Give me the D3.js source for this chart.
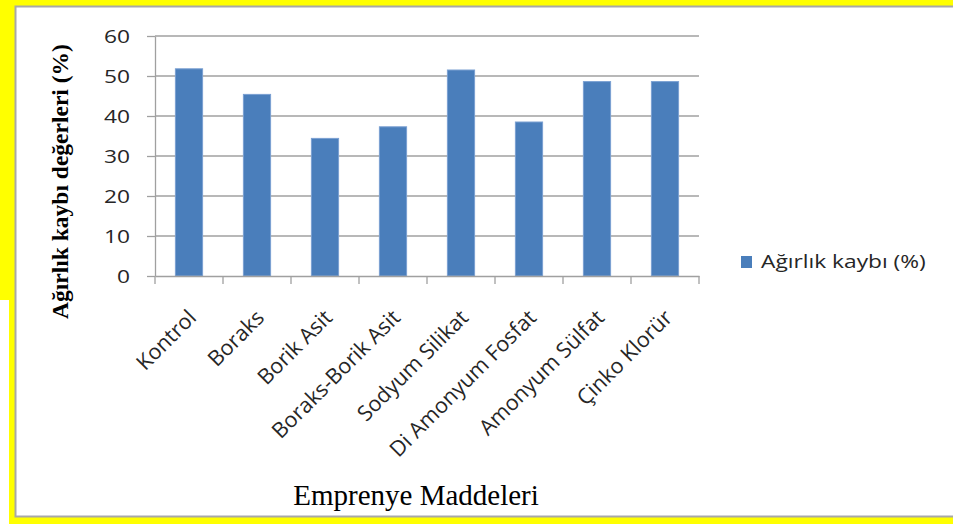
<!DOCTYPE html>
<html>
<head>
<meta charset="utf-8">
<script src="https://cdn.jsdelivr.net/npm/d3@7"></script>
<style>
  html, body { margin: 0; padding: 0; background: #fff; overflow: hidden; }
  svg { display: block; }
</style>
</head>
<body>
<svg id="chart" width="953" height="524"></svg>
<script>
const categories = ["Kontrol", "Boraks", "Borik Asit", "Boraks-Borik Asit", "Sodyum Silikat", "Di Amonyum Fosfat", "Amonyum Sülfat", "Çinko Klorür"];
const values = [51.8, 45.4, 34.4, 37.3, 51.5, 38.5, 48.6, 48.6];
const yTicks = [0, 10, 20, 30, 40, 50, 60];
const seriesName = "Ağırlık kaybı (%)";
const xTitle = "Emprenye Maddeleri";
const yTitle = "Ağırlık kaybı değerleri (%)";

const svg = d3.select("#chart");
const W = 953, H = 524;
const SX = 1.3; // horizontal stretch of the horizontal texts in the original picture
const tickFont = "'Open Sans', sans-serif";

// frame
svg.append("rect").attr("x", 0).attr("y", 0).attr("width", W).attr("height", H).attr("fill", "#ffff00");
svg.append("rect").attr("x", 0).attr("y", 300).attr("width", 9).attr("height", H - 300).attr("fill", "#ffffff");
svg.append("rect").attr("x", 15.5).attr("y", 6.5).attr("width", W + 10).attr("height", 510)
  .attr("fill", "#ffffff").attr("stroke", "#a8a8a8").attr("stroke-width", 2);

const x = d3.scaleBand().domain(categories).range([155, 699]).paddingInner(0.6).paddingOuter(0.3);
const y = d3.scaleLinear().domain([0, 60]).range([276, 36]);
const step = x.step();

// gridlines
svg.append("g").selectAll("line").data(yTicks.filter(d => d > 0)).join("line")
  .attr("x1", 155).attr("x2", 699)
  .attr("y1", d => y(d)).attr("y2", d => y(d))
  .attr("stroke", "#a0a0a0").attr("stroke-width", 1.3);

// y axis
const yAxis = svg.append("g").attr("transform", "translate(155,0)")
  .call(d3.axisLeft(y).tickValues(yTicks).tickSize(8).tickSizeOuter(0).tickPadding(0));
yAxis.select(".domain").attr("stroke", "#a0a0a0").attr("stroke-width", 1.3);
yAxis.selectAll(".tick line").attr("stroke", "#a0a0a0").attr("stroke-width", 1.3);
yAxis.selectAll(".tick text")
  .attr("x", null).attr("dy", null)
  .attr("transform", `translate(-25,6) scale(${SX},1)`)
  .attr("text-anchor", "end")
  .attr("fill", "#262626")
  .style("font-family", tickFont).style("font-size", "17.5px");

// bars
svg.append("g").selectAll("rect").data(values).join("rect")
  .attr("x", (d, i) => x(categories[i]))
  .attr("width", x.bandwidth())
  .attr("y", d => y(d))
  .attr("height", d => y(0) - y(d))
  .attr("fill", "#4a7ebb").attr("stroke", "#7aa0d2").attr("stroke-width", 1);

// x axis
const xAxis = svg.append("g").attr("transform", "translate(0,276)")
  .call(d3.axisBottom(x).tickSize(0).tickPadding(0));
xAxis.select(".domain").attr("stroke", "#a0a0a0").attr("stroke-width", 1.3);
xAxis.selectAll(".tick text")
  .attr("y", null).attr("dy", null)
  .attr("text-anchor", "end")
  .attr("transform", `translate(${x.bandwidth() / 2 - 5},43) rotate(-45)`)
  .attr("fill", "#262626")
  .style("font-family", tickFont).style("font-size", "21.5px");
// boundary tick marks
const bounds = d3.range(categories.length + 1).map(i => 155 + i * step);
svg.append("g").selectAll("line").data(bounds).join("line")
  .attr("x1", d => d).attr("x2", d => d)
  .attr("y1", 276).attr("y2", 284)
  .attr("stroke", "#a0a0a0").attr("stroke-width", 1.3);

// legend
const lg = svg.append("g").attr("transform", "translate(741,256)");
lg.append("rect").attr("width", 11).attr("height", 12).attr("fill", "#4a7ebb");
lg.append("text").text(seriesName)
  .attr("transform", `translate(20,11.5) scale(${SX},1)`)
  .attr("fill", "#262626")
  .style("font-family", tickFont).style("font-size", "17.5px");

// axis titles
svg.append("text").text(xTitle)
  .attr("x", 416).attr("y", 505).attr("text-anchor", "middle")
  .attr("fill", "#000")
  .style("font-family", "'Liberation Serif', 'Times New Roman', serif").style("font-size", "29px");
svg.append("text").text(yTitle)
  .attr("transform", "translate(68,181.5) rotate(-90)").attr("text-anchor", "middle")
  .attr("fill", "#000")
  .style("font-family", "'Liberation Serif', 'Times New Roman', serif")
  .style("font-size", "23.5px").style("font-weight", "bold");
</script>
</body>
</html>
